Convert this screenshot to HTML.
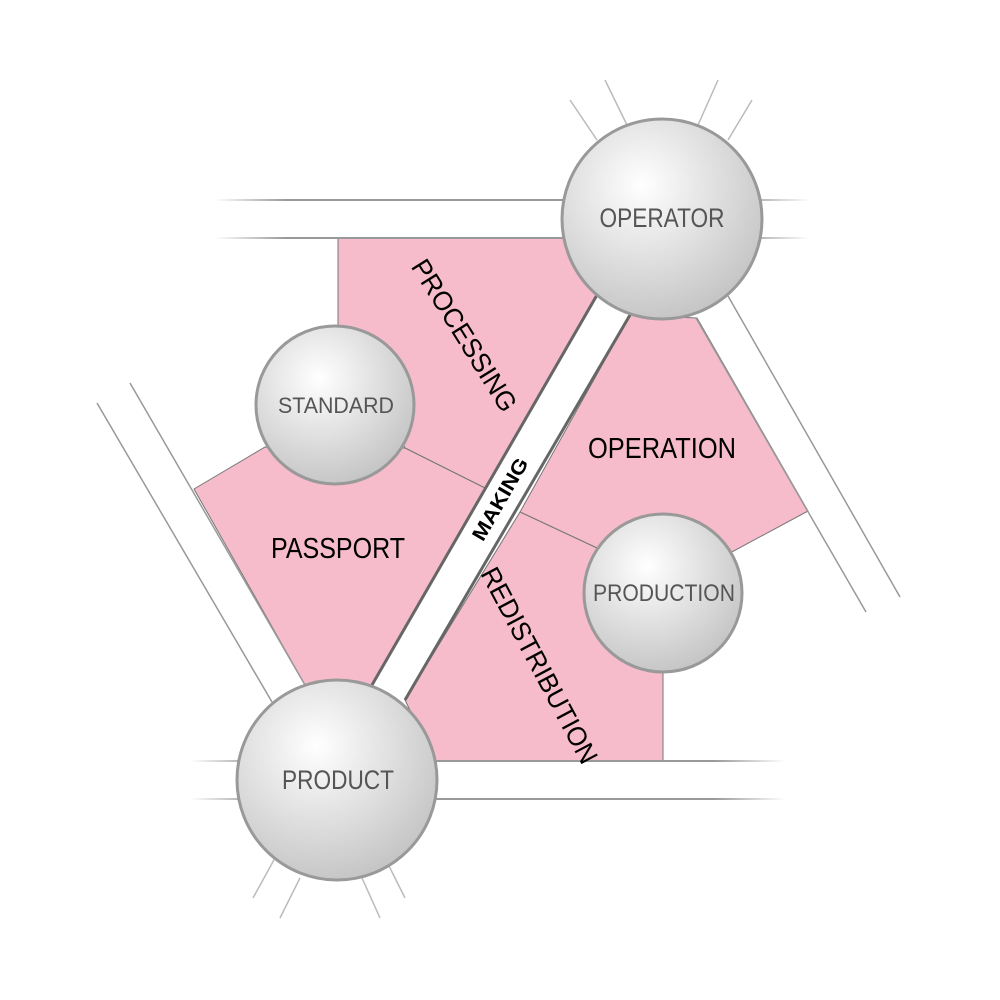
<!DOCTYPE html>
<html><head><meta charset="utf-8"><style>
html,body{margin:0;padding:0;background:#fff;width:1000px;height:1000px;overflow:hidden}
svg text{font-family:"Liberation Sans",sans-serif}
</style></head><body>
<svg width="1000" height="1000" viewBox="0 0 1000 1000" xmlns="http://www.w3.org/2000/svg">
<defs>
<radialGradient id="g" cx="0.4" cy="0.33" r="0.7">
<stop offset="0" stop-color="#ffffff"/><stop offset="1" stop-color="#c4c4c4"/>
</radialGradient>
<linearGradient id="hl1" gradientUnits="userSpaceOnUse" x1="215" y1="0" x2="810" y2="0"><stop offset="0" stop-color="#999" stop-opacity="0"/><stop offset="0.12" stop-color="#999"/><stop offset="0.88" stop-color="#999"/><stop offset="1" stop-color="#999" stop-opacity="0"/></linearGradient>
<linearGradient id="hl2" gradientUnits="userSpaceOnUse" x1="190" y1="0" x2="785" y2="0"><stop offset="0" stop-color="#999" stop-opacity="0"/><stop offset="0.12" stop-color="#999"/><stop offset="0.88" stop-color="#999"/><stop offset="1" stop-color="#999" stop-opacity="0"/></linearGradient>
</defs>
<g fill="#f6bccb" stroke="#777" stroke-width="1">
<polygon points="338,238 580,238 597,295 485,488 405,448 338,325"/>
<polygon points="194,489 265,447 405,448 485,488 372,685 305,685"/>
<polygon points="630,315 697,318 808,511 730,553 597,548 520,512"/>
<polygon points="520,512 597,548 663,640 663,761 435,761 405,700"/>
</g>
<rect x="215" y="200" width="595" height="38" fill="#fff"/>
<rect x="190" y="761" width="595" height="38" fill="#fff"/>
<g stroke-width="2">
<line x1="215" y1="200" x2="810" y2="200" stroke="url(#hl1)"/>
<line x1="215" y1="238" x2="810" y2="238" stroke="url(#hl1)"/>
<line x1="190" y1="761" x2="785" y2="761" stroke="url(#hl2)"/>
<line x1="190" y1="799" x2="785" y2="799" stroke="url(#hl2)"/>
</g>
<g stroke="#999" stroke-width="1.5">
<line x1="130" y1="383" x2="305" y2="685"/>
<line x1="97" y1="403" x2="272" y2="702"/>
<line x1="696" y1="318" x2="866" y2="612"/>
<line x1="728" y1="296" x2="900" y2="597"/>
</g>
<g stroke="#bbb" stroke-width="1.5">
<line x1="570" y1="100" x2="597" y2="140"/>
<line x1="605" y1="80" x2="627" y2="125"/>
<line x1="718" y1="80" x2="698" y2="125"/>
<line x1="752" y1="100" x2="728" y2="140"/>
<line x1="253" y1="898" x2="275" y2="858"/>
<line x1="280" y1="918" x2="300" y2="878"/>
<line x1="380" y1="918" x2="362" y2="878"/>
<line x1="405" y1="898" x2="385" y2="858"/>
</g>
<polygon points="597,295 630,315 405,700 372,685" fill="#fff"/>
<g stroke="#666" stroke-width="3">
<line x1="597" y1="295" x2="372" y2="685"/>
<line x1="630" y1="315" x2="405" y2="700"/>
</g>
<g fill="url(#g)" stroke="#999" stroke-width="3">
<circle cx="662" cy="219" r="100"/>
<circle cx="335" cy="405" r="79"/>
<circle cx="663" cy="593" r="79"/>
<circle cx="337" cy="780" r="100"/>
</g>
<g fill="#555" text-anchor="middle" lengthAdjust="spacingAndGlyphs">
<text x="662" y="227" font-size="27" textLength="125" lengthAdjust="spacingAndGlyphs">OPERATOR</text>
<text x="336" y="413" font-size="22" textLength="116" lengthAdjust="spacingAndGlyphs">STANDARD</text>
<text x="664" y="601" font-size="24" textLength="142" lengthAdjust="spacingAndGlyphs">PRODUCTION</text>
<text x="338" y="789" font-size="27" textLength="112" lengthAdjust="spacingAndGlyphs">PRODUCT</text>
</g>
<g fill="#000" text-anchor="middle">
<text x="662" y="458" font-size="29" textLength="148" lengthAdjust="spacingAndGlyphs">OPERATION</text>
<text x="338" y="558" font-size="29" textLength="134" lengthAdjust="spacingAndGlyphs">PASSPORT</text>
<text transform="translate(465,335) rotate(58)" y="10" font-size="27" textLength="174" lengthAdjust="spacingAndGlyphs">PROCESSING</text>
<text transform="translate(540,665) rotate(62)" y="10" font-size="27" textLength="218" lengthAdjust="spacingAndGlyphs">REDISTRIBUTION</text>
<text transform="translate(500,499) rotate(-60)" y="7" font-size="20" font-weight="bold" textLength="92" lengthAdjust="spacingAndGlyphs">MAKING</text>
</g>
</svg>
</body></html>
